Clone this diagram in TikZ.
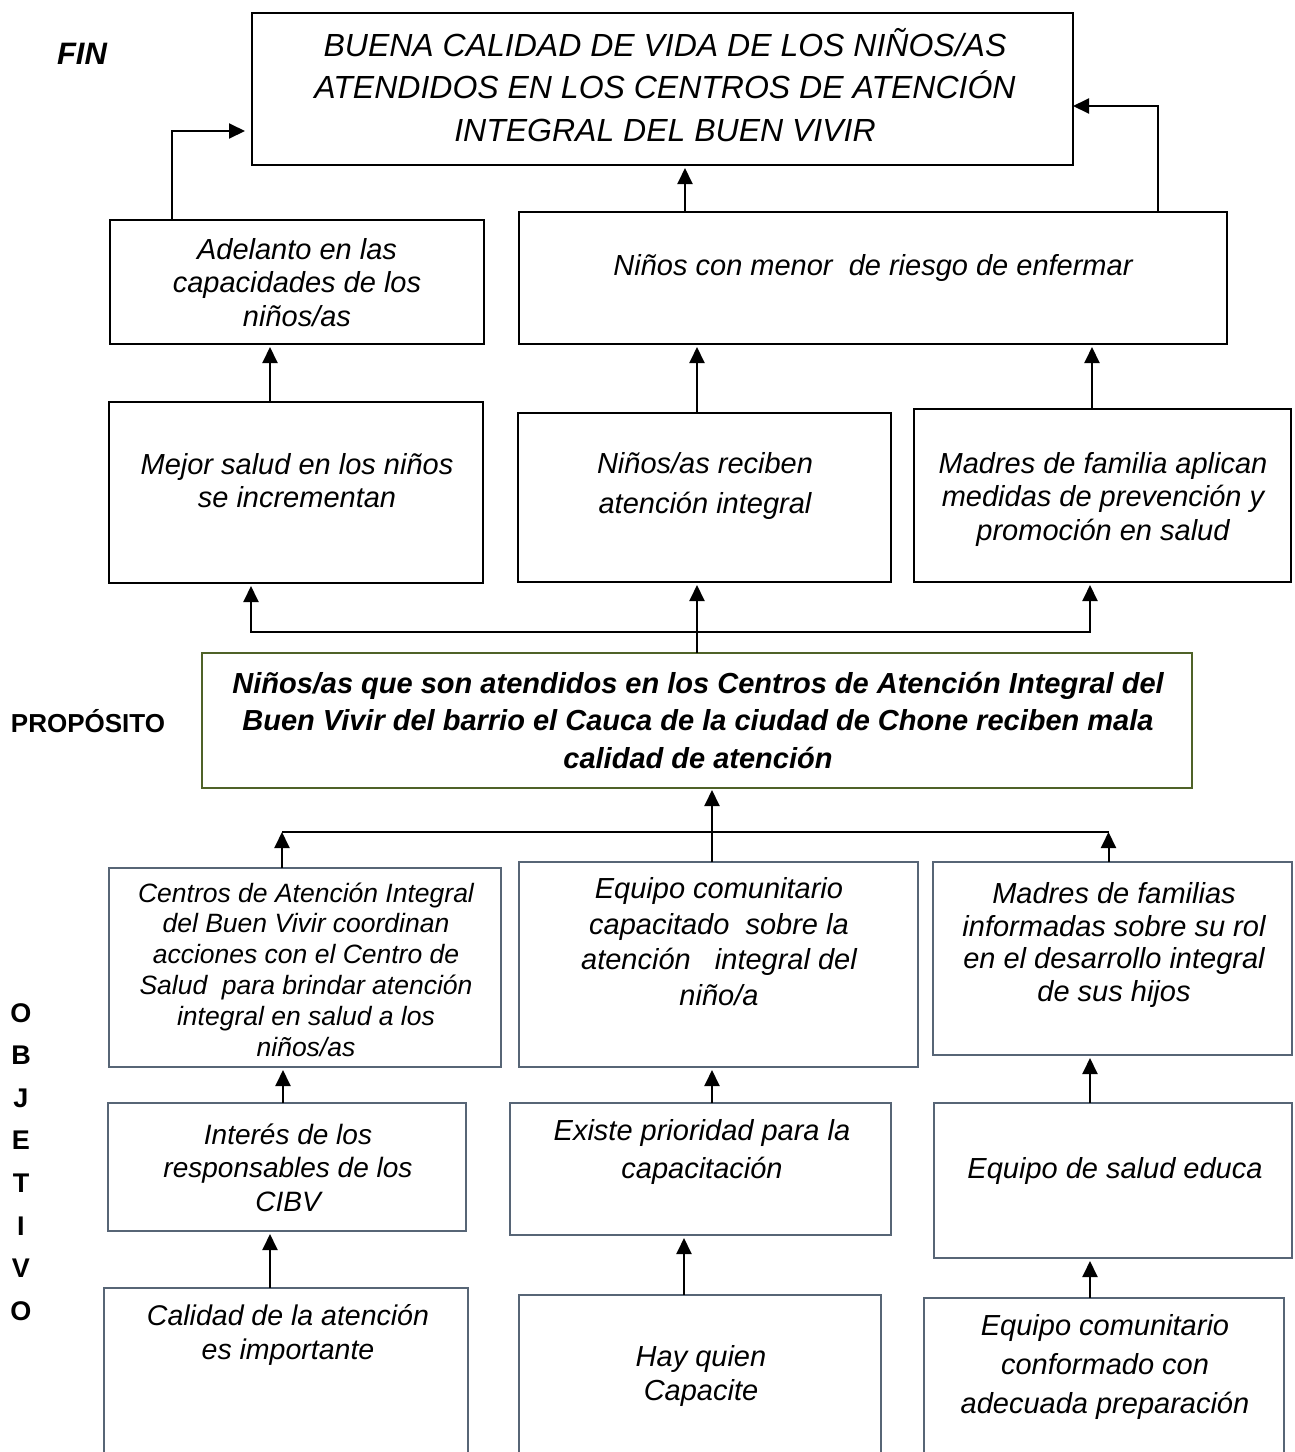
\documentclass[tikz,border=0pt]{standalone}
\usepackage{fontspec}
\setmainfont{Liberation Sans}
\usetikzlibrary{arrows.meta,calc}
\newcommand\myfs[2]{\fontsize{#1}{#2}\selectfont}
\definecolor{greyblue}{RGB}{87,101,118}
\definecolor{olive}{RGB}{79,98,40}
\begin{document}
\begin{tikzpicture}[x=1pt,y=-1pt,
  topbox/.style={draw=black,line width=2.6pt,inner sep=0pt,outer sep=0pt},
  lowbox/.style={draw=greyblue,line width=1.3pt,inner sep=0pt,outer sep=0pt},
  probox/.style={draw=olive,line width=2pt,inner sep=0pt,outer sep=0pt},
  txt/.style={align=center,anchor=base,inner sep=0pt},
  line/.style={draw=black,line width=2pt},
  arr/.style={line,-{Triangle[width=15pt,length=16pt]}}]
\useasboundingbox[fill=white] (0,0) rectangle (1294,1452);

% boxes
\node[topbox,minimum width=821pt,minimum height=152pt] (fin) at (662.5,89) {};
\node[topbox,minimum width=374pt,minimum height=124pt] (ade) at (297,282) {};
\node[topbox,minimum width=708pt,minimum height=132pt] (men) at (873,278) {};
\node[topbox,minimum width=374pt,minimum height=181pt] (mej) at (296,492.5) {};
\node[topbox,minimum width=373pt,minimum height=169pt] (rec) at (704.5,497.5) {};
\node[topbox,minimum width=377pt,minimum height=173pt] (mad) at (1102.5,495.5) {};
\node[probox,minimum width=990pt,minimum height=135pt] (pro) at (697,720.5) {};
\node[lowbox,minimum width=392pt,minimum height=199pt] (cen) at (305,967.5) {};
\node[lowbox,minimum width=399pt,minimum height=205pt] (cap) at (718.5,964.5) {};
\node[lowbox,minimum width=359pt,minimum height=193pt] (maf) at (1112.5,958.5) {};
\node[lowbox,minimum width=358pt,minimum height=128pt] (int) at (287,1167) {};
\node[lowbox,minimum width=381pt,minimum height=132pt] (exi) at (700.5,1169) {};
\node[lowbox,minimum width=358pt,minimum height=155pt] (sal) at (1113,1180.5) {};
\node[lowbox,minimum width=364pt,minimum height=182pt] (cal) at (286,1379) {};
\node[lowbox,minimum width=362pt,minimum height=175pt] (hay) at (700,1382.5) {};
\node[lowbox,minimum width=360pt,minimum height=172pt] (con) at (1104,1384) {};

% texts (anchor = baseline of the last line)
\node[txt,font=\myfs{32}{42.5}\itshape] (tfin) at (665,141) {BUENA CALIDAD DE VIDA DE LOS NIÑOS/AS\\ATENDIDOS EN LOS CENTROS DE ATENCIÓN\\INTEGRAL DEL BUEN VIVIR};
\node[txt,font=\myfs{29}{33.5}\itshape] (tade) at (297,326) {Adelanto en las\\capacidades de los\\niños/as};
\node[txt,font=\myfs{29}{33}\itshape] (tmen) at (873,275) {Niños con menor\ \ de riesgo de enfermar};
\node[txt,font=\myfs{29}{33}\itshape] (tmej) at (297,507) {Mejor salud en los niños\\se incrementan};
\node[txt,font=\myfs{29}{39.5}\itshape] (trec) at (705,513) {Niños/as reciben\\atención integral};
\node[txt,font=\myfs{29}{33.5}\itshape] (tmad) at (1103,540) {Madres de familia aplican\\medidas de prevención y\\promoción en salud};
\node[txt,font=\myfs{29}{37.5}\bfseries\itshape] (tpro) at (698,768) {Niños/as que son atendidos en los Centros de Atención Integral del\\Buen Vivir del barrio el Cauca de la ciudad de Chone reciben mala\\calidad de atención};
\node[txt,font=\myfs{26.5}{30.8}\itshape] (tcen) at (306,1056) {Centros de Atención Integral\\del Buen Vivir coordinan\\acciones con el Centro de\\Salud\ \ para brindar atención\\integral en salud a los\\niños/as};
\node[txt,font=\myfs{29}{35.5}\itshape] (tcap) at (719,1005) {Equipo comunitario\\capacitado\ \ sobre la\\atención\ \ \ integral del\\niño/a};
\node[txt,font=\myfs{29}{32.5}\itshape] (tmaf) at (1114,1001) {Madres de familias\\informadas sobre su rol\\en el desarrollo integral\\de sus hijos};
\node[txt,font=\myfs{28}{33.5}\itshape] (tint) at (288,1211) {Interés de los\\responsables de los\\CIBV};
\node[txt,font=\myfs{29}{38}\itshape] (texi) at (702,1178) {Existe prioridad para la\\capacitación};
\node[txt,font=\myfs{29}{34}\itshape] (tsal) at (1115,1178) {Equipo de salud educa};
\node[txt,font=\myfs{28.5}{34}\itshape] (tcal) at (288,1359) {Calidad de la atención\\es importante};
\node[txt,font=\myfs{29}{34}\itshape] (thay) at (701,1400) {Hay quien\\Capacite};
\node[txt,font=\myfs{29}{39}\itshape] (tcon) at (1105,1413) {Equipo comunitario\\conformado con\\adecuada preparación};

% side labels
\node[txt,font=\myfs{31}{36}\bfseries\itshape] (lfin) at (82,64) {FIN};
\node[txt,font=\myfs{26}{30}\bfseries] (lpro) at (88,732) {PROPÓSITO};
\foreach \l [count=\i from 0] in {O,B,J,E,T,I,V,O}{
  \node[txt,font=\myfs{27}{30}\bfseries] (lobj\i) at (21,1022+42.6*\i) {\l};
}

% connectors, upper part
\draw[arr] ([xshift=-125pt]ade.north) |- ([xshift=-7pt,yshift=-42pt]fin.west);
\draw[arr] ([xshift=-188pt]men.north) -- ([xshift=22.5pt,yshift=-3pt]fin.south);
\draw[arr] ([xshift=285pt]men.north) |- ([yshift=-17pt]fin.east);
\draw[arr] ([xshift=-26pt]mej.north) -- ([xshift=-27pt,yshift=-3pt]ade.south);
\draw[arr] ([xshift=-7.5pt]rec.north) -- ([xshift=-176pt,yshift=-3pt]men.south);
\draw[arr] ([xshift=-10.5pt]mad.north) -- ([xshift=219pt,yshift=-3pt]men.south);

% from proposito up
\coordinate (j1) at ([yshift=21pt]pro.north);
\draw[line] (pro.north) -- (j1);
\draw[arr] (j1) -- ([yshift=-3pt]rec.south -| j1);
\draw[arr] (j1) -| ([xshift=-45pt,yshift=-3pt]mej.south);
\draw[arr] (j1) -| ([xshift=-12.5pt,yshift=-3pt]mad.south);

% lower part to proposito
\coordinate (h1) at ([xshift=-23pt,yshift=36pt]cen.north);
\coordinate (h2) at ([xshift=-4pt,yshift=30pt]maf.north);
\draw[line] (h1) -- (h2);
\draw[arr] ([xshift=-23pt]cen.north) -- (h1);
\draw[arr] ([xshift=-4pt]maf.north) -- (h2);
\draw[arr] ([xshift=-6.5pt]cap.north) -- ([xshift=15pt,yshift=-2pt]pro.south);

% lower chains
\draw[arr] ([xshift=-4pt]int.north) -- ([xshift=-22pt,yshift=-3pt]cen.south);
\draw[arr] ([xshift=-16pt]cal.north) -- ([xshift=-17pt,yshift=-3pt]int.south);
\draw[arr] ([xshift=11.5pt]exi.north) -- ([xshift=-6.5pt,yshift=-3pt]cap.south);
\draw[arr] ([xshift=-16pt]hay.north) -- ([xshift=-16.5pt,yshift=-3pt]exi.south);
\draw[arr] ([xshift=-23pt]sal.north) -- ([xshift=-22.5pt,yshift=-3pt]maf.south);
\draw[arr] ([xshift=-14pt]con.north) -- ([xshift=-23pt,yshift=-3pt]sal.south);
\end{tikzpicture}
\end{document}
